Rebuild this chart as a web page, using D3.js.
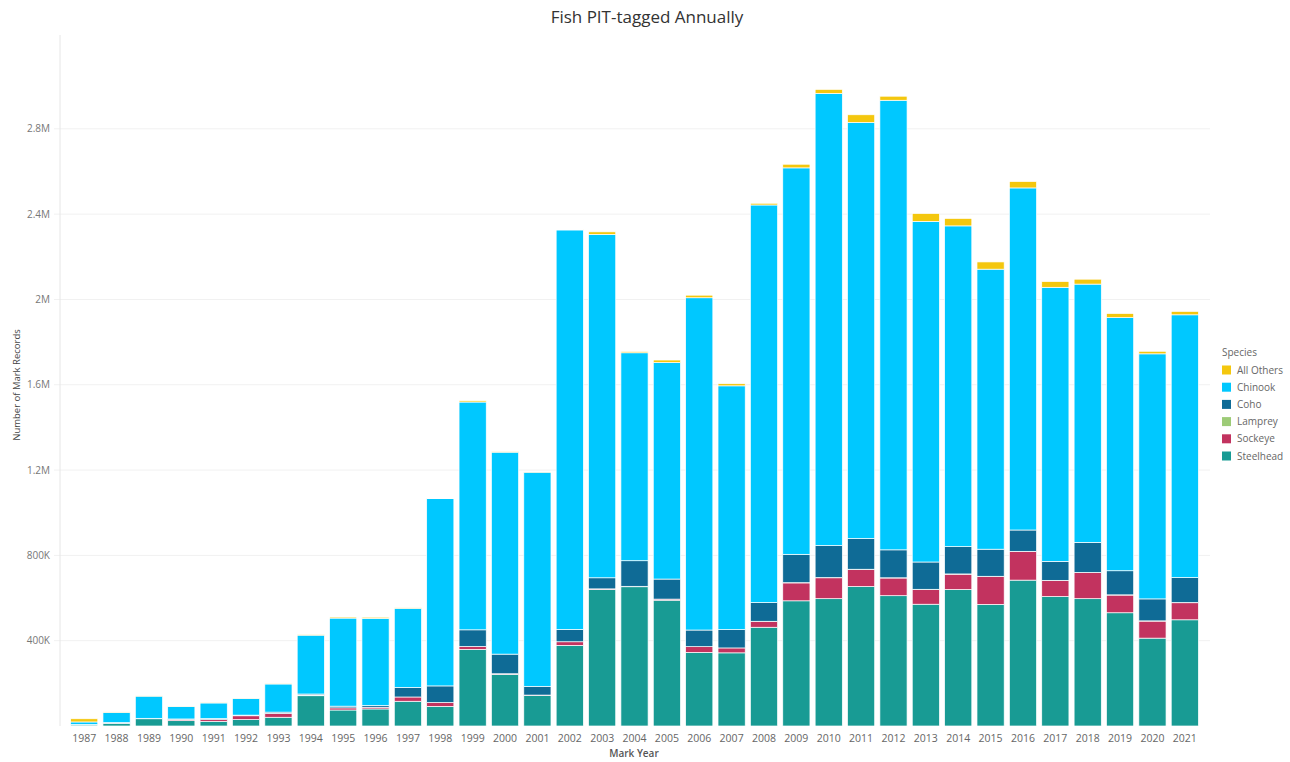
<!DOCTYPE html>
<html>
<head>
<meta charset="utf-8">
<script src="https://cdn.jsdelivr.net/npm/d3@7"></script>
<style>
  body { margin: 0; background: #fff; font-family: "Open Sans", "Segoe UI", sans-serif; }
</style>
</head>
<body>
<div id="chart"></div>
<script>
const ancho = 1290;
const alto = 762;

// valores, en miles de registros
const years = d3.range(1987, 2022).map(String);
const steelhead = [5, 12, 34, 25, 22, 30, 41, 142, 75, 80, 116, 92, 359, 242, 143, 378, 640, 653, 590, 345, 343, 463, 587, 597, 654, 611, 571, 640, 570, 684, 607, 597, 531, 412, 498];
const sockeye   = [1, 1, 1, 5, 8, 18, 18, 3, 10, 8, 20, 18, 14, 3, 2, 17, 3, 2, 5, 27, 23, 27, 84, 98, 80, 83, 69, 72, 131, 134, 75, 122, 83, 80, 80];
const lamprey   = [0, 0, 0, 0, 0, 0, 0, 0, 0, 0, 0, 0, 0, 0, 0, 0, 0, 0, 0, 0, 0, 1, 1, 1, 1, 1, 1, 1, 1, 1, 1, 1, 1, 1, 1];
const coho      = [1, 3, 1, 3, 5, 3, 6, 5, 8, 8, 45, 78, 78, 92, 41, 58, 52, 120, 94, 78, 86, 88, 133, 150, 144, 131, 128, 128, 127, 100, 89, 141, 113, 103, 117];
const chinook   = [12, 48, 104, 58, 73, 78, 132, 276, 413, 409, 371, 878, 1068, 947, 1004, 1873, 1610, 975, 1015, 1558, 1143, 1864, 1812, 2120, 1951, 2108, 1597, 1504, 1313, 1604, 1285, 1211, 1187, 1149, 1232];
const allOthers = [15, 2, 1, 1, 1, 1, 1, 2, 5, 5, 2, 2, 6, 2, 1, 2, 12, 6, 12, 12, 10, 8, 17, 19, 36, 19, 37, 35, 34, 30, 27, 23, 19, 12, 16];

const especies = ["Steelhead", "Sockeye", "Lamprey", "Coho", "Chinook", "All Others"];
const colores = ["#189B94", "#C2335F", "#9DCB77", "#0F6B96", "#00C8FF", "#F4C70E"];
const ordenLeyenda = ["All Others", "Chinook", "Coho", "Lamprey", "Sockeye", "Steelhead"];
const yTicks = [400, 800, 1200, 1600, 2000, 2400, 2800];

const series = { "Steelhead": steelhead, "Sockeye": sockeye, "Lamprey": lamprey, "Coho": coho, "Chinook": chinook, "All Others": allOthers };
const filas = years.map((y, i) => {
  const f = { year: y };
  especies.forEach(s => f[s] = series[s][i] * 1000);
  return f;
});

const svg = d3.select("#chart").append("svg")
  .attr("width", ancho)
  .attr("height", alto);

const x = d3.scaleBand().domain(years).range([68, 1201]).paddingInner(0.16).paddingOuter(0.08);
const y = d3.scaleLinear().domain([0, 3.24e6]).range([726, 35]);
const color = d3.scaleOrdinal().domain(especies).range(colores);

// rejilla
svg.append("g")
  .selectAll("line")
  .data(yTicks)
  .enter()
  .append("line")
  .attr("x1", 54).attr("x2", 1210)
  .attr("y1", d => y(d * 1000)).attr("y2", d => y(d * 1000))
  .attr("stroke", "#f1f1f1");

svg.append("line")
  .attr("x1", 60).attr("x2", 60)
  .attr("y1", 35).attr("y2", y(0))
  .attr("stroke", "#e6e6e6");

// eje y
svg.append("g")
  .selectAll("text")
  .data(yTicks)
  .enter()
  .append("text")
  .attr("x", 50)
  .attr("y", d => y(d * 1000))
  .attr("dy", "0.35em")
  .attr("text-anchor", "end")
  .attr("font-size", 10)
  .attr("fill", "#777")
  .text(d => d >= 1000 ? (d / 1000) + "M" : d + "K");

// barras apiladas
const pila = d3.stack().keys(especies)(filas);

svg.append("g")
  .selectAll("g")
  .data(pila)
  .enter()
  .append("g")
  .attr("fill", d => color(d.key))
  .selectAll("rect")
  .data(d => d)
  .enter()
  .append("rect")
  .attr("x", d => x(d.data.year))
  .attr("width", x.bandwidth())
  .attr("y", d => y(d[1]))
  .attr("height", d => Math.max(0, y(d[0]) - y(d[1])))
  .attr("stroke", "#fff")
  .attr("stroke-width", 0.7);

// eje x
svg.append("g")
  .attr("transform", `translate(0,${y(0)})`)
  .call(d3.axisBottom(x).tickSize(0).tickPadding(9))
  .call(g => g.select(".domain").remove())
  .selectAll("text")
  .attr("font-family", "Open Sans, sans-serif")
  .attr("font-size", 10.5)
  .attr("fill", "#666");

// titulos
svg.append("text")
  .attr("x", 647).attr("y", 23)
  .attr("text-anchor", "middle")
  .attr("font-size", 17)
  .attr("fill", "#333")
  .text("Fish PIT-tagged Annually");

svg.append("text")
  .attr("x", 634).attr("y", 757)
  .attr("text-anchor", "middle")
  .attr("font-size", 10)
  .attr("font-weight", 600)
  .attr("fill", "#555")
  .text("Mark Year");

svg.append("text")
  .attr("transform", "translate(20,385) rotate(-90)")
  .attr("text-anchor", "middle")
  .attr("font-size", 9.5)
  .attr("fill", "#444")
  .text("Number of Mark Records");

// leyenda
const leyenda = svg.append("g").attr("transform", "translate(1222,0)");
leyenda.append("text")
  .attr("x", 0).attr("y", 356)
  .attr("font-size", 10)
  .attr("fill", "#666")
  .text("Species");

const items = leyenda.selectAll(".item")
  .data(ordenLeyenda)
  .enter()
  .append("g")
  .attr("class", "item")
  .attr("transform", (d, i) => `translate(0,${370 + i * 17.2})`);

items.append("rect")
  .attr("x", 0).attr("y", -4.5)
  .attr("width", 9).attr("height", 9)
  .attr("fill", d => color(d));

items.append("text")
  .attr("x", 15)
  .attr("dy", "0.35em")
  .attr("font-size", 10)
  .attr("fill", "#666")
  .text(d => d);
</script>
</body>
</html>
